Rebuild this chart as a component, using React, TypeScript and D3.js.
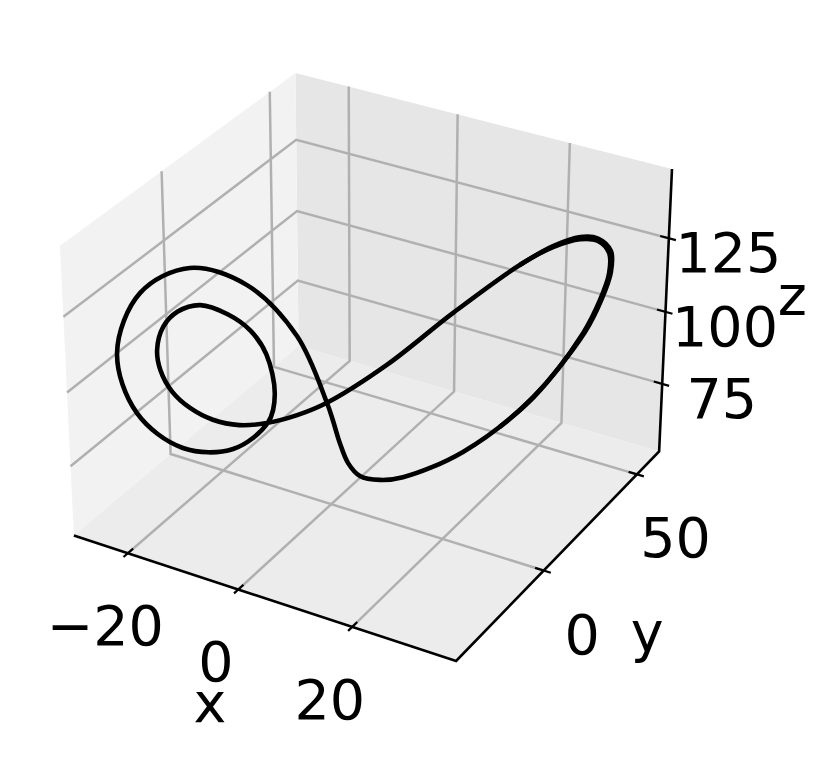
import React from 'react';
import * as d3 from 'd3';

const xTicks = [-20, 0, 20];
const yTicks = [0, 50];
const zTicks = [75, 100, 125];
const xLim = [-30, 37.7];
const yLim = [-43.4, 62.5];
const zLim = [51, 148];

// orbit
const orbitX = [-1.7,-5.1,-10.8,-17.3,-23.0,-25.9,-23.9,-18.7,-12.8,-8.6,-7.8,-8.7,-10.5,-13.1,-16.2,-18.8,-20.5,-21.3,-21.0,-19.7,-17.7,-15.1,-12.0,-8.8,-5.2,-1.7,5.4,13.2,21.0,24.9,28.1,30.2,31.6,31.7,30.7,28.8,23.0,14.6,7.4,4.6,2.2,0.8,-0.2,-1.0];
const orbitY = [2.7,-2.2,-10.1,-19.2,-27.2,-31.2,-28.4,-21.1,-12.9,-7.1,-5.9,-7.2,-9.7,-13.3,-17.7,-21.3,-23.7,-24.8,-24.4,-22.6,-19.8,-16.1,-11.8,-7.3,-2.3,2.7,12.6,23.5,34.4,39.8,44.3,47.3,49.2,49.3,48.0,45.3,37.1,25.5,15.3,11.5,8.1,6.1,4.8,3.6];
const orbitZ = [83.6,107.4,126.0,133.5,127.0,108.0,87.1,73.4,71.2,79.2,88.5,102.3,110.8,117.0,121.0,119.6,115.1,107.6,100.8,93.0,86.9,82.0,79.2,78.9,80.5,83.6,94.4,109.7,123.5,128.4,130.1,128.9,124.5,117.7,108.9,98.2,77.9,61.3,54.8,54.7,56.9,61.9,69.2,77.5];

// second lap drifts a little outside the first on the right lobe
const lapX = [21.0,24.9,28.1,30.2,31.8,31.9,30.9,29.0,23.1,19.0];
const lapY = [34.4,39.8,44.3,47.3,49.5,49.6,48.3,45.6,37.2,31.7];
const lapZ = [123.5,128.7,130.8,129.7,125.1,118.0,109.2,98.4,78.0,68.7];

// same camera as mplot3d: elev 30, azim -60, dist 10
const box = [1.1905, 1.1905, 0.8929];
const el = 30 * Math.PI / 180, az = -60 * Math.PI / 180, dist = 10;
const w = [Math.cos(el) * Math.cos(az), Math.cos(el) * Math.sin(az), Math.sin(el)];
const eye = box.map((b, i) => b / 2 + dist * w[i]);
const uLen = Math.hypot(w[0], w[1]);
const u = [-w[1] / uLen, w[0] / uLen, 0];
const v = [w[1]*u[2]-w[2]*u[1], w[2]*u[0]-w[0]*u[2], w[0]*u[1]-w[1]*u[0]];
const dot = (a: number[], b: number[]) => a[0]*b[0]+a[1]*b[1]+a[2]*b[2];

const bx = d3.scaleLinear().domain(xLim).range([0, box[0]]);
const by = d3.scaleLinear().domain(yLim).range([0, box[1]]);
const bz = d3.scaleLinear().domain(zLim).range([0, box[2]]);
const proj = (p: number[]) => {
  const d = [bx(p[0]) - eye[0], by(p[1]) - eye[1], bz(p[2]) - eye[2]];
  const depth = -dot(w, d);
  return [dot(u, d) / depth, dot(v, d) / depth];
};

const [x0, x1] = xLim, [y0, y1] = yLim, [z0, z1] = zLim;
const sx = d3.scaleLinear().domain([proj([x0, y0, z1])[0], proj([x1, y1, z1])[0]]).range([60, 672]);
const sy = d3.scaleLinear().domain([proj([x0, y1, z1])[1], proj([x1, y0, z0])[1]]).range([73, 661]);
const P = (p: number[]): [number, number] => { const q = proj(p); return [sx(q[0]), sy(q[1])]; };

const line3d = d3.line<number[]>().x(d => P(d)[0]).y(d => P(d)[1]);
const orbit = d3.line<number[]>().x(d => P(d)[0]).y(d => P(d)[1]).curve(d3.curveCatmullRomClosed.alpha(0.5));
const lap = d3.line<number[]>().x(d => P(d)[0]).y(d => P(d)[1]).curve(d3.curveCatmullRom.alpha(0.5));
const orbitPts = orbitX.map((x, i) => [x, orbitY[i], orbitZ[i]]);
const lapPts = lapX.map((x, i) => [x, lapY[i], lapZ[i]]);

const fs = 55.5;
const font = 'DejaVu Sans';
const gridColor = '#b0b0b0';

export default function App() {
  const xSpan = x1 - x0, ySpan = y1 - y0;
  const xMid = P([(x0 + x1) / 2, y0, z0]);
  const yMid = P([x1, (y0 + y1) / 2, z0]);
  const zMid = P([x1, y1, (z0 + z1) / 2]);
  return (
    <svg width={830} height={757} style={{ position: 'absolute', left: 0, top: 0, background: '#fff' }} fontFamily={font}>
      <path d={line3d([[x0,y1,z0],[x1,y1,z0],[x1,y1,z1],[x0,y1,z1]]) + 'Z'} fill="#e6e6e6" />
      <path d={line3d([[x0,y0,z0],[x0,y1,z0],[x0,y1,z1],[x0,y0,z1]]) + 'Z'} fill="#f2f2f2" />
      <path d={line3d([[x0,y0,z0],[x1,y0,z0],[x1,y1,z0],[x0,y1,z0]]) + 'Z'} fill="#ececec" />

      {xTicks.map(t => <path key={'gx' + t} fill="none" stroke={gridColor} strokeWidth={2.5} d={line3d([[t,y0,z0],[t,y1,z0],[t,y1,z1]])!} />)}
      {yTicks.map(t => <path key={'gy' + t} fill="none" stroke={gridColor} strokeWidth={2.5} d={line3d([[x1,t,z0],[x0,t,z0],[x0,t,z1]])!} />)}
      {zTicks.map(t => <path key={'gz' + t} fill="none" stroke={gridColor} strokeWidth={2.5} d={line3d([[x0,y0,t],[x0,y1,t],[x1,y1,t]])!} />)}

      <path fill="none" stroke="#000" strokeWidth={2.6} strokeLinejoin="miter" d={line3d([[x0,y0,z0],[x1,y0,z0],[x1,y1,z0],[x1,y1,z1]])!} />

      {xTicks.map(t => <path key={'tx' + t} stroke="#000" strokeWidth={2.2} d={line3d([[t,y0-ySpan*0.018,z0],[t,y0+ySpan*0.022,z0]])!} />)}
      {yTicks.map(t => <path key={'ty' + t} stroke="#000" strokeWidth={2.2} d={line3d([[x1+xSpan*0.018,t,z0],[x1-xSpan*0.022,t,z0]])!} />)}
      {zTicks.map(t => <path key={'tz' + t} stroke="#000" strokeWidth={2.2} d={line3d([[x1+xSpan*0.018,y1,t],[x1-xSpan*0.022,y1,t]])!} />)}

      <path d={orbit(orbitPts)!} fill="none" stroke="#000" strokeWidth={4.6} />
      <path d={lap(lapPts)!} fill="none" stroke="#000" strokeWidth={4.6} />

      <g fontSize={fs} fill="#000" textAnchor="middle">
        {xTicks.map(t => { const q = P([t, y0, z0]); return <text key={t} x={q[0] - 22.5} y={q[1] + 92}>{d3.format('d')(t).replace('-', '\u2212')}</text>; })}
        {yTicks.map(t => { const q = P([x1, t, z0]); return <text key={t} x={q[0] + 38.5} y={q[1] + 83}>{t}</text>; })}
        {zTicks.map(t => { const q = P([x1, y1, t]); return <text key={t} x={q[0] + 59.5} y={q[1] + 34}>{t}</text>; })}
        <text x={xMid[0] - 50} y={xMid[1] + 125}>x</text>
        <text x={yMid[0] + 85} y={yMid[1] + 99}>y</text>
        <text x={zMid[0] + 127} y={zMid[1] + 2}>z</text>
      </g>
    </svg>
  );
}
